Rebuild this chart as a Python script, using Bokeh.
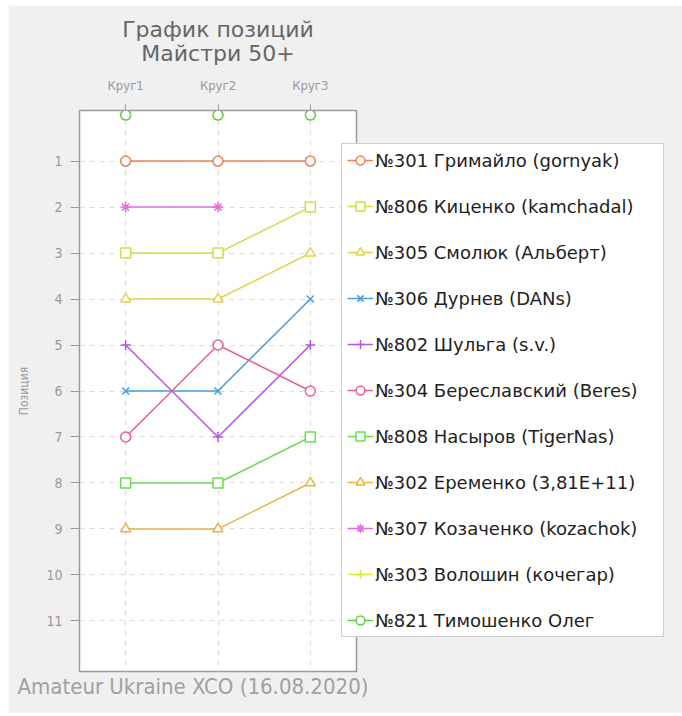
import numpy as np
from bokeh.plotting import figure
from bokeh.models import Range1d, FixedTicker, Legend, LegendItem, Title, ColumnDataSource
from bokeh.embed import file_html
from bokeh.resources import INLINE

# ---------------- data ----------------
rounds = ["Круг1", "Круг2", "Круг3"]
round_x = [1, 2, 3]
names = [
    "№301 Гримайло (gornyak)",
    "№806 Киценко (kamchadal)",
    "№305 Смолюк (Альберт)",
    "№306 Дурнев (DANs)",
    "№802 Шульга (s.v.)",
    "№304 Береславский (Beres)",
    "№808 Насыров (TigerNas)",
    "№302 Еременко (3,81E+11)",
    "№307 Козаченко (kozachok)",
    "№303 Волошин (кочегар)",
    "№821 Тимошенко Олег",
]
pos_301 = [1, 1, 1]
pos_806 = [3, 3, 2]
pos_305 = [4, 4, 3]
pos_306 = [6, 6, 4]
pos_802 = [5, 7, 5]
pos_304 = [7, 5, 6]
pos_808 = [8, 8, 7]
pos_302 = [9, 9, 8]
pos_307 = [2, 2, 0]
pos_303 = [0, 0, 0]
pos_821 = [0, 0, 0]
positions = [pos_301, pos_806, pos_305, pos_306, pos_802, pos_304,
             pos_808, pos_302, pos_307, pos_303, pos_821]
colors = ["#ee8055", "#c6e04c", "#e0d44a", "#46a0e2", "#b456e8", "#e8608c",
          "#6cdc4c", "#e8b445", "#e070d8", "#d6ec3c", "#62cc48"]
markers = ["circle", "square", "triangle", "x", "cross", "circle",
           "square", "triangle", "asterisk", "cross", "circle"]
y_ticks = list(range(1, 12))
title_line1 = "График позиций"
title_line2 = "Майстри 50+"
footer_text = "Amateur Ukraine XCO (16.08.2020)"

GRAY = "#999999"
COND = "DejaVu Sans Condensed, Liberation Sans Narrow, sans-serif"
SANS = "DejaVu Sans, sans-serif"

p = figure(frame_width=277, frame_height=561, output_backend="svg",
           toolbar_location=None,
           x_range=Range1d(0.5, 3.5), y_range=Range1d(12.1, -0.1),
           x_axis_location="above",
           min_border_left=71, min_border_right=320,
           min_border_top=105, min_border_bottom=42)
p.margin = (5, 6, 3, 8)
p.background_fill_color = "white"
p.border_fill_color = "#f0f0f0"
p.outline_line_color = "#9a9a9a"
p.outline_line_width = 1.5

# axes
xa = p.xaxis[0]
xa.ticker = FixedTicker(ticks=round_x)
xa.major_label_overrides = {x: r for x, r in zip(round_x, rounds)}
xa.minor_tick_line_color = None
xa.major_tick_in = 0
xa.major_tick_out = 6
xa.major_tick_line_color = GRAY
xa.axis_line_color = "#9a9a9a"
xa.major_label_text_color = GRAY
xa.major_label_text_font = COND
xa.major_label_text_font_size = "13px"
xa.major_label_standoff = 12

ya = p.yaxis[0]
ya.ticker = FixedTicker(ticks=y_ticks)
ya.minor_tick_line_color = None
ya.major_tick_in = 0
ya.major_tick_out = 9
ya.major_tick_line_color = GRAY
ya.axis_line_color = "#9a9a9a"
ya.major_label_text_color = GRAY
ya.major_label_text_font = COND
ya.major_label_text_font_size = "14px"
ya.major_label_standoff = 8
ya.axis_label = "Позиция"
ya.axis_label_text_color = GRAY
ya.axis_label_text_font = COND
ya.axis_label_text_font_size = "12px"
ya.axis_label_text_font_style = "normal"
ya.axis_label_standoff = 12

for g in (p.xgrid[0], p.ygrid[0]):
    g.grid_line_color = "#dcdcdc"
    g.grid_line_dash = "5 5"
    g.grid_line_width = 1.2
p.xgrid[0].ticker = FixedTicker(ticks=round_x)
p.ygrid[0].ticker = FixedTicker(ticks=y_ticks)

# series
items = []
for name, pos, col, mk in zip(names, positions, colors, markers):
    y_line = [v if v > 0 else np.nan for v in pos]
    src = ColumnDataSource(dict(x=round_x, y=pos, yl=y_line))
    ln = p.line("x", "yl", source=src, line_color=col, line_width=1.5)
    sc = p.scatter("x", "y", source=src, marker=mk, size=10, line_color=col,
                   fill_color="white", line_width=1.5)
    items.append(LegendItem(label=name, renderers=[ln, sc]))

legend = Legend(items=items, location=(-15, 34), orientation="vertical",
                padding=5, margin=0, spacing=24, glyph_height=22, glyph_width=26,
                label_height=22, label_width=283, label_standoff=2,
                label_text_font=SANS, label_text_font_size="18px",
                label_text_color="#222222", background_fill_color="white",
                background_fill_alpha=1.0, border_line_color="#a0a0a0",
                border_line_width=1.5)
p.add_layout(legend, "right")

# titles (first added sits nearest the frame)
p.add_layout(Title(text=title_line2, align="center", text_font=SANS,
                   text_font_size="22px", text_font_style="normal",
                   text_color="#666666", standoff=17), "above")
p.add_layout(Title(text=title_line1, align="center", text_font=SANS,
                   text_font_size="22px", text_font_style="normal",
                   text_color="#666666", standoff=-23), "above")
# footer
p.add_layout(Title(text=footer_text, align="left",
                   offset=-62, text_font=COND, text_font_size="22px",
                   text_font_style="normal", text_color="#a0a0a0",
                   standoff=1), "below")

open("out.html", "w").write(file_html(p, INLINE))
